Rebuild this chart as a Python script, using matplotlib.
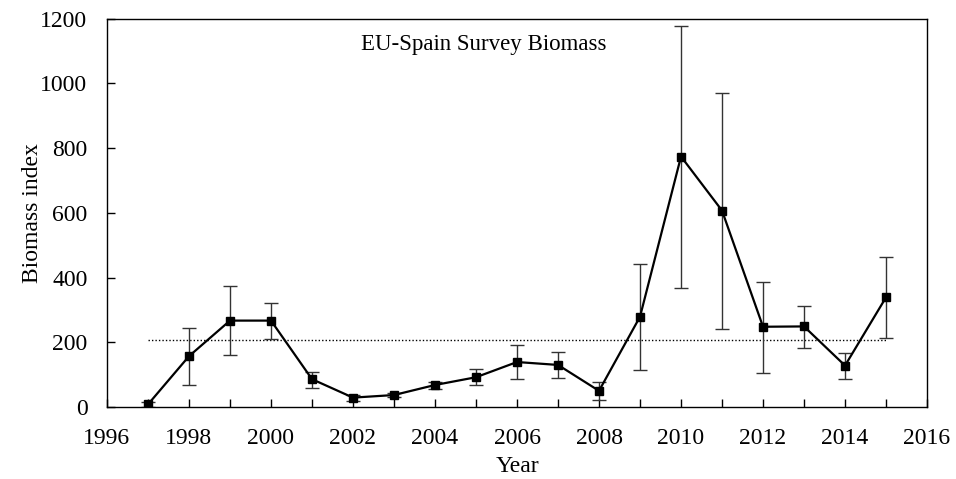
import numpy as np
import matplotlib.pyplot as plt
from matplotlib.ticker import MultipleLocator

# Survey years and biomass index
years = np.arange(1997, 2016)
biomass = [8, 157, 267, 267, 86, 29, 37, 68, 92, 139, 130, 50, 279, 774, 607, 248, 249, 128, 339]
upper = [16, 245, 375, 320, 108, 36, 44, 77, 117, 191, 169, 77, 442, 1177, 969, 387, 313, 166, 464]
lower = [0, 68, 160, 211, 60, 19, 31, 55, 67, 87, 91, 22, 114, 368, 242, 106, 183, 87, 213]

plt.rcParams["font.family"] = ["Liberation Serif", "DejaVu Serif"]
plt.rcParams["font.size"] = 17

fig = plt.figure(figsize=(9.56, 4.79), dpi=100)
ax = fig.add_axes([0.1119, 0.1503, 0.8578, 0.8107])

biomass = np.array(biomass)
yerr = [biomass - np.array(lower), np.array(upper) - biomass]

ax.errorbar(years, biomass, yerr=yerr, fmt="none", ecolor="#333333",
            elinewidth=1.0, capsize=5, capthick=1.0, zorder=2)
ax.plot(years, biomass, color="black", lw=1.6, marker="s", ms=5.5,
        mfc="black", mec="black", zorder=3)

# long-term mean as dotted reference line
mean_val = biomass.mean()
ax.plot([years[0], years[-1]], [mean_val, mean_val], color="black",
        lw=1.0, ls=(0, (1, 1.5)), zorder=1)

ax.text(2005.2, 1120, "EU-Spain Survey Biomass", ha="center", va="center", fontsize=16.5)

ax.set_xlim(1996, 2016)
ax.set_ylim(0, 1200)
ax.xaxis.set_major_locator(MultipleLocator(2))
ax.xaxis.set_minor_locator(MultipleLocator(1))
ax.yaxis.set_major_locator(MultipleLocator(200))
ax.tick_params(axis="both", which="both", direction="in", top=False, right=False,
               length=6, width=1.0)
ax.tick_params(axis="x", pad=15)
ax.tick_params(axis="y", pad=14)
for s in ax.spines.values():
    s.set_linewidth(1.0)

ax.set_xlabel("Year", labelpad=5)
ax.set_ylabel("Biomass index", labelpad=-2)

fig.savefig("out.png", dpi=100)
